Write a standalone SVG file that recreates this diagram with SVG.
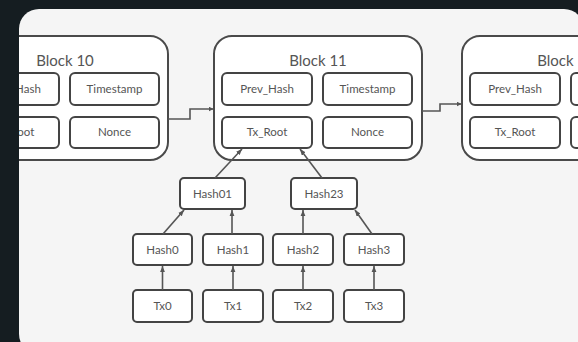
<svg xmlns="http://www.w3.org/2000/svg" width="578" height="342" viewBox="0 0 578 342">
<style>
.blk{fill:#fff;stroke:#4a4a4a;stroke-width:2}
.box{fill:#fff;stroke:#444;stroke-width:2}
.t{font-family:Lato,"Open Sans","Liberation Sans",sans-serif;fill:#555;text-anchor:middle}
.title{font-size:15px}
.lbl{font-size:11.5px}
.c{fill:none;stroke:#555;stroke-width:1.6}
</style>
<defs>
<clipPath id="pc"><rect x="19" y="9" width="565" height="345" rx="20"/></clipPath>
<marker id="ah" viewBox="0 0 10 10" refX="9" refY="5" markerWidth="5" markerHeight="5" orient="auto" markerUnits="userSpaceOnUse">
<path d="M0,0 L10,5 L0,10 z" fill="#555"/>
</marker>
<marker id="ah2" viewBox="0 0 10 10" refX="10" refY="5" markerWidth="6" markerHeight="6" orient="auto" markerUnits="userSpaceOnUse">
<path d="M0,1 L10,5 L0,9 z M-3,1 L7,5 L-3,9 z" fill="#555"/>
</marker>
</defs>
<rect x="0" y="0" width="578" height="342" fill="#151d21"/>
<rect x="19" y="9" width="565" height="345" rx="20" fill="#f5f5f5"/>
<g clip-path="url(#pc)">
<g id="block10">
<rect class="blk" x="-39" y="36" width="207" height="124" rx="18"/>
<text class="t title" x="65" y="66">Block 10</text>
<rect class="box" x="-31" y="73" width="90" height="32" rx="5"/>
<text class="t lbl" x="14" y="93">Prev_Hash</text>
<rect class="box" x="70" y="73" width="89" height="32" rx="5"/>
<text class="t lbl" x="114.5" y="93">Timestamp</text>
<rect class="box" x="-31" y="117" width="90" height="31" rx="5"/>
<text class="t lbl" x="14" y="136">Tx_Root</text>
<rect class="box" x="70" y="117" width="89" height="31" rx="5"/>
<text class="t lbl" x="114.5" y="136">Nonce</text>
</g>
<g id="block11">
<rect class="blk" x="214" y="36" width="208" height="124" rx="18"/>
<text class="t title" x="318" y="66">Block 11</text>
<rect class="box" x="222" y="73" width="90" height="32" rx="5"/>
<text class="t lbl" x="267" y="93">Prev_Hash</text>
<rect class="box" x="323" y="73" width="89" height="32" rx="5"/>
<text class="t lbl" x="367.5" y="93">Timestamp</text>
<rect class="box" x="222" y="117" width="90" height="31" rx="5"/>
<text class="t lbl" x="267" y="136">Tx_Root</text>
<rect class="box" x="323" y="117" width="89" height="31" rx="5"/>
<text class="t lbl" x="367.5" y="136">Nonce</text>
</g>
<g id="block12">
<rect class="blk" x="462" y="36" width="208" height="124" rx="18"/>
<text class="t title" x="566" y="66">Block 12</text>
<rect class="box" x="470" y="73" width="90" height="32" rx="5"/>
<text class="t lbl" x="515" y="93">Prev_Hash</text>
<rect class="box" x="571" y="73" width="89" height="32" rx="5"/>
<text class="t lbl" x="615.5" y="93">Timestamp</text>
<rect class="box" x="470" y="117" width="90" height="31" rx="5"/>
<text class="t lbl" x="515" y="136">Tx_Root</text>
<rect class="box" x="571" y="117" width="89" height="31" rx="5"/>
<text class="t lbl" x="615.5" y="136">Nonce</text>
</g>
</g>
<g id="hash01"><rect class="box" x="180" y="178" width="65" height="31" rx="4"/><text class="t lbl" x="212.5" y="197.5">Hash01</text></g>
<g id="hash23"><rect class="box" x="291" y="178" width="66" height="31" rx="4"/><text class="t lbl" x="324" y="197.5">Hash23</text></g>
<g id="hash0"><rect class="box" x="133" y="234" width="59" height="31" rx="4"/><text class="t lbl" x="162.5" y="253.5">Hash0</text></g>
<g id="hash1"><rect class="box" x="203" y="234" width="60" height="31" rx="4"/><text class="t lbl" x="233" y="253.5">Hash1</text></g>
<g id="hash2"><rect class="box" x="273" y="234" width="60" height="31" rx="4"/><text class="t lbl" x="303" y="253.5">Hash2</text></g>
<g id="hash3"><rect class="box" x="344" y="234" width="60" height="31" rx="4"/><text class="t lbl" x="374" y="253.5">Hash3</text></g>
<g id="tx0"><rect class="box" x="133" y="290" width="59" height="32" rx="4"/><text class="t lbl" x="162.5" y="310">Tx0</text></g>
<g id="tx1"><rect class="box" x="203" y="290" width="60" height="32" rx="4"/><text class="t lbl" x="233" y="310">Tx1</text></g>
<g id="tx2"><rect class="box" x="273" y="290" width="60" height="32" rx="4"/><text class="t lbl" x="303" y="310">Tx2</text></g>
<g id="tx3"><rect class="box" x="344" y="290" width="60" height="32" rx="4"/><text class="t lbl" x="374" y="310">Tx3</text></g>
<g id="connectors">
<path class="c" d="M168,119 H190 V109 H213" marker-end="url(#ah)"/>
<path class="c" d="M422,111 H440 V104 H461" marker-end="url(#ah)"/>
<path class="c" d="M215,178 L242,149" marker-end="url(#ah2)"/>
<path class="c" d="M322,178 L300,149" marker-end="url(#ah2)"/>
<path class="c" d="M163,234 L184,210" marker-end="url(#ah2)"/>
<path class="c" d="M232,234 V210" marker-end="url(#ah2)"/>
<path class="c" d="M303,234 V210" marker-end="url(#ah2)"/>
<path class="c" d="M372,234 L355,210" marker-end="url(#ah2)"/>
<path class="c" d="M162.5,290 V266" marker-end="url(#ah2)"/>
<path class="c" d="M233,290 V266" marker-end="url(#ah2)"/>
<path class="c" d="M303,290 V266" marker-end="url(#ah2)"/>
<path class="c" d="M374,290 V266" marker-end="url(#ah2)"/>
</g>
</svg>
